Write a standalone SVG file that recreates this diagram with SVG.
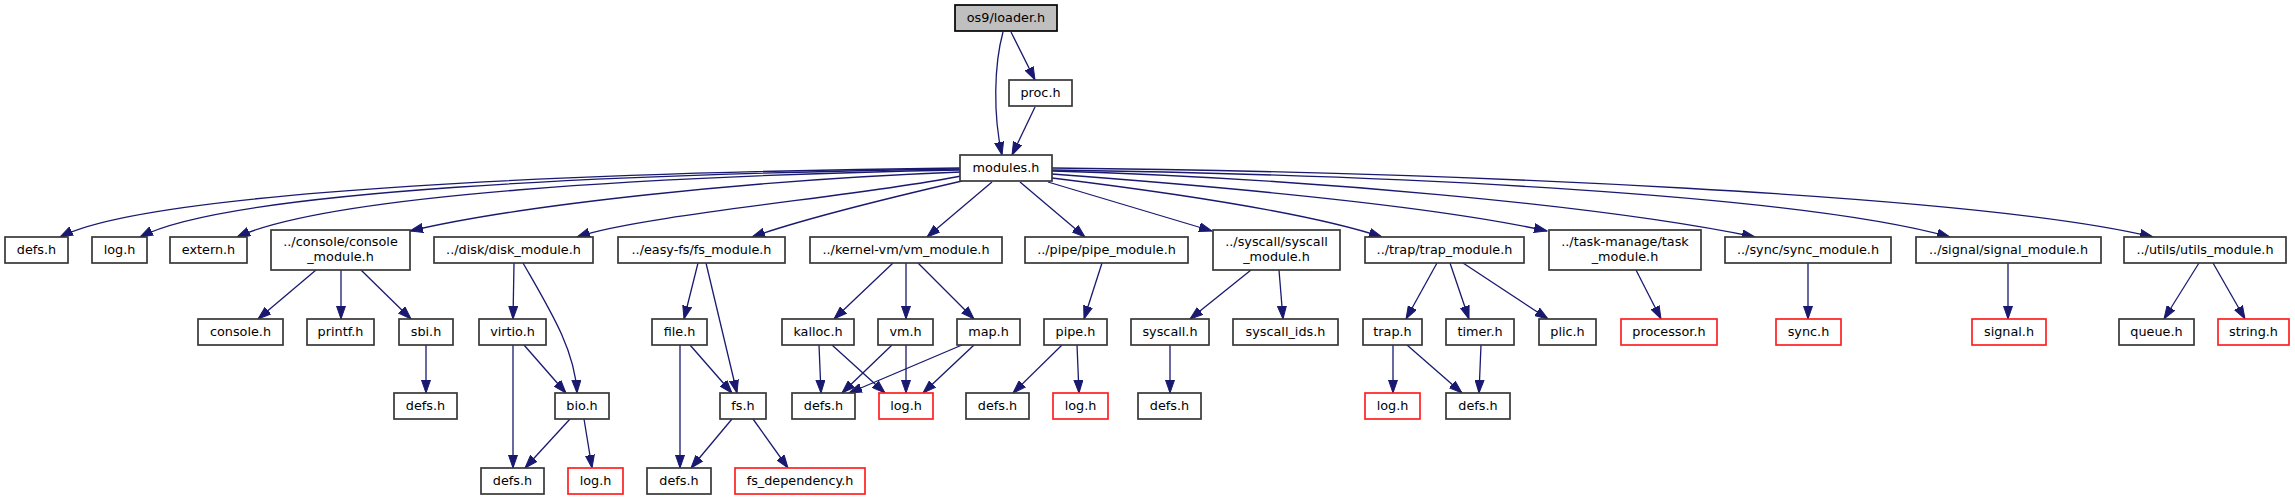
<svg xmlns="http://www.w3.org/2000/svg" width="2295" height="500" viewBox="0 0 2295 500">
<style>
.n rect{fill:#ffffff;stroke:#383838;stroke-width:1.7}
.n.r rect{stroke:#ff2020}
.n.g rect{fill:#bfbfbf;stroke:#000000}
.n text{font-family:"DejaVu Sans",sans-serif;font-size:12.8px;fill:#000;text-anchor:middle}
#edges path{fill:none;stroke:#191970;stroke-width:1.3;marker-end:url(#arr)}
</style>
<defs>
<marker id="arr" markerUnits="userSpaceOnUse" markerWidth="14" markerHeight="10" refX="13" refY="5" orient="auto">
<path d="M0,0.5 L13,5 L0,9.5 z" fill="#191970" stroke="#191970" stroke-width="1"/>
</marker>
</defs>
<rect width="2295" height="500" fill="#ffffff"/>
<g id="edges">
<path d="M1003,32 C994,65 993,115 1002,155"/>
<path d="M1011,32 L1035,80"/>
<path d="M1035,107 L1012,155"/>
<path d="M960,168 C600,172 150,190 60,237"/>
<path d="M960,169 C620,174 230,190 140,237"/>
<path d="M960,170 C650,176 330,195 237,237"/>
<path d="M961,172 C750,180 520,205 410,231"/>
<path d="M961,176 C870,195 640,215 577,237"/>
<path d="M962,181 C880,200 800,220 752,237"/>
<path d="M992,182 L927,237"/>
<path d="M1020,182 L1085,237"/>
<path d="M1048,182 L1212,231"/>
<path d="M1052,178 C1150,190 1300,210 1382,237"/>
<path d="M1052,174 C1200,185 1430,205 1547,231"/>
<path d="M1052,171 C1300,178 1600,205 1755,237"/>
<path d="M1052,170 C1400,175 1800,195 1950,237"/>
<path d="M1052,168 C1450,172 1980,195 2153,237"/>
<path d="M316,270 L258,319"/>
<path d="M341,270 L341,319"/>
<path d="M361,270 L411,319"/>
<path d="M514,263 L513,319"/>
<path d="M523,263 C550,310 575,350 577,393"/>
<path d="M698,263 L684,319"/>
<path d="M706,263 L737,393"/>
<path d="M690,345 L732,393"/>
<path d="M680,345 L680,468"/>
<path d="M732,419 L691,468"/>
<path d="M753,419 L788,468"/>
<path d="M513,345 L513,468"/>
<path d="M524,345 L566,393"/>
<path d="M570,419 L525,468"/>
<path d="M584,419 L592,468"/>
<path d="M426,345 L426,393"/>
<path d="M893,263 L834,319"/>
<path d="M906,263 L906,319"/>
<path d="M918,263 L974,319"/>
<path d="M819,345 L821,393"/>
<path d="M832,345 L885,393"/>
<path d="M892,345 L842,393"/>
<path d="M906,345 L906,393"/>
<path d="M962,345 L849,393"/>
<path d="M974,345 L923,393"/>
<path d="M1102,263 L1084,319"/>
<path d="M1062,345 L1013,393"/>
<path d="M1077,345 L1079,393"/>
<path d="M1251,270 L1190,319"/>
<path d="M1279,270 L1283,319"/>
<path d="M1170,345 L1170,393"/>
<path d="M1437,263 L1406,319"/>
<path d="M1450,263 L1469,319"/>
<path d="M1463,263 L1548,319"/>
<path d="M1393,345 L1393,393"/>
<path d="M1407,345 L1462,393"/>
<path d="M1481,345 L1479,393"/>
<path d="M1636,270 L1661,319"/>
<path d="M1808,263 L1808,319"/>
<path d="M2008,263 L2008,319"/>
<path d="M2199,263 L2164,319"/>
<path d="M2213,263 L2245,319"/>
</g>
<g id="n_loader" class="n g"><rect x="955" y="5" width="102" height="26"/><text x="1006" y="22">os9/loader.h</text></g>
<g id="n_proc" class="n"><rect x="1009" y="80" width="63" height="26"/><text x="1040.5" y="97">proc.h</text></g>
<g id="n_modules" class="n"><rect x="960" y="155" width="92" height="26"/><text x="1006" y="172">modules.h</text></g>

<g id="n_defs1" class="n"><rect x="5" y="237" width="63" height="26"/><text x="36.5" y="254">defs.h</text></g>
<g id="n_log1" class="n"><rect x="92" y="237" width="55" height="26"/><text x="119.5" y="254">log.h</text></g>
<g id="n_extern" class="n"><rect x="170" y="237" width="77" height="26"/><text x="208.5" y="254">extern.h</text></g>
<g id="n_console_mod" class="n"><rect x="271" y="230" width="139" height="40"/><text x="340.5" y="245.5">../console/console</text><text x="340.5" y="260.5">_module.h</text></g>
<g id="n_disk_mod" class="n"><rect x="434" y="237" width="159" height="26"/><text x="513.5" y="254">../disk/disk_module.h</text></g>
<g id="n_fs_mod" class="n"><rect x="618" y="237" width="167" height="26"/><text x="701.5" y="254">../easy-fs/fs_module.h</text></g>
<g id="n_vm_mod" class="n"><rect x="810" y="237" width="192" height="26"/><text x="906" y="254">../kernel-vm/vm_module.h</text></g>
<g id="n_pipe_mod" class="n"><rect x="1025" y="237" width="163" height="26"/><text x="1106.5" y="254">../pipe/pipe_module.h</text></g>
<g id="n_syscall_mod" class="n"><rect x="1213" y="230" width="127" height="40"/><text x="1276.5" y="245.5">../syscall/syscall</text><text x="1276.5" y="260.5">_module.h</text></g>
<g id="n_trap_mod" class="n"><rect x="1365" y="237" width="159" height="26"/><text x="1444.5" y="254">../trap/trap_module.h</text></g>
<g id="n_task_mod" class="n"><rect x="1549" y="230" width="152" height="40"/><text x="1625" y="245.5">../task-manage/task</text><text x="1625" y="260.5">_module.h</text></g>
<g id="n_sync_mod" class="n"><rect x="1725" y="237" width="166" height="26"/><text x="1808" y="254">../sync/sync_module.h</text></g>
<g id="n_signal_mod" class="n"><rect x="1916" y="237" width="185" height="26"/><text x="2008.5" y="254">../signal/signal_module.h</text></g>
<g id="n_utils_mod" class="n"><rect x="2124" y="237" width="162" height="26"/><text x="2205" y="254">../utils/utils_module.h</text></g>

<g id="n_console" class="n"><rect x="198" y="319" width="85" height="26"/><text x="240.5" y="336">console.h</text></g>
<g id="n_printf" class="n"><rect x="307" y="319" width="67" height="26"/><text x="340.5" y="336">printf.h</text></g>
<g id="n_sbi" class="n"><rect x="399" y="319" width="54" height="26"/><text x="426" y="336">sbi.h</text></g>
<g id="n_virtio" class="n"><rect x="479" y="319" width="67" height="26"/><text x="512.5" y="336">virtio.h</text></g>
<g id="n_file" class="n"><rect x="652" y="319" width="55" height="26"/><text x="679.5" y="336">file.h</text></g>
<g id="n_kalloc" class="n"><rect x="782" y="319" width="72" height="26"/><text x="818" y="336">kalloc.h</text></g>
<g id="n_vm" class="n"><rect x="878" y="319" width="55" height="26"/><text x="905.5" y="336">vm.h</text></g>
<g id="n_map" class="n"><rect x="957" y="319" width="63" height="26"/><text x="988.5" y="336">map.h</text></g>
<g id="n_pipe" class="n"><rect x="1044" y="319" width="63" height="26"/><text x="1075.5" y="336">pipe.h</text></g>
<g id="n_syscall" class="n"><rect x="1131" y="319" width="78" height="26"/><text x="1170" y="336">syscall.h</text></g>
<g id="n_syscall_ids" class="n"><rect x="1233" y="319" width="105" height="26"/><text x="1285.5" y="336">syscall_ids.h</text></g>
<g id="n_trap" class="n"><rect x="1363" y="319" width="59" height="26"/><text x="1392.5" y="336">trap.h</text></g>
<g id="n_timer" class="n"><rect x="1446" y="319" width="68" height="26"/><text x="1480" y="336">timer.h</text></g>
<g id="n_plic" class="n"><rect x="1539" y="319" width="57" height="26"/><text x="1567.5" y="336">plic.h</text></g>
<g id="n_processor" class="n r"><rect x="1621" y="319" width="96" height="26"/><text x="1669" y="336">processor.h</text></g>
<g id="n_sync" class="n r"><rect x="1776" y="319" width="65" height="26"/><text x="1808.5" y="336">sync.h</text></g>
<g id="n_signal" class="n r"><rect x="1972" y="319" width="74" height="26"/><text x="2009" y="336">signal.h</text></g>
<g id="n_queue" class="n"><rect x="2119" y="319" width="75" height="26"/><text x="2156.5" y="336">queue.h</text></g>
<g id="n_string" class="n r"><rect x="2218" y="319" width="71" height="26"/><text x="2253.5" y="336">string.h</text></g>

<g id="n_defs_sbi" class="n"><rect x="394" y="393" width="63" height="26"/><text x="425.5" y="410">defs.h</text></g>
<g id="n_bio" class="n"><rect x="555" y="393" width="54" height="26"/><text x="582" y="410">bio.h</text></g>
<g id="n_fs" class="n"><rect x="720" y="393" width="46" height="26"/><text x="743" y="410">fs.h</text></g>
<g id="n_defs_vm" class="n"><rect x="792" y="393" width="63" height="26"/><text x="823.5" y="410">defs.h</text></g>
<g id="n_log_vm" class="n r"><rect x="879" y="393" width="54" height="26"/><text x="906" y="410">log.h</text></g>
<g id="n_defs_pipe" class="n"><rect x="966" y="393" width="63" height="26"/><text x="997.5" y="410">defs.h</text></g>
<g id="n_log_pipe" class="n r"><rect x="1053" y="393" width="55" height="26"/><text x="1080.5" y="410">log.h</text></g>
<g id="n_defs_syscall" class="n"><rect x="1138" y="393" width="63" height="26"/><text x="1169.5" y="410">defs.h</text></g>
<g id="n_log_trap" class="n r"><rect x="1365" y="393" width="55" height="26"/><text x="1392.5" y="410">log.h</text></g>
<g id="n_defs_trap" class="n"><rect x="1446" y="393" width="64" height="26"/><text x="1478" y="410">defs.h</text></g>

<g id="n_defs_disk" class="n"><rect x="481" y="468" width="63" height="26"/><text x="512.5" y="485">defs.h</text></g>
<g id="n_log_disk" class="n r"><rect x="568" y="468" width="55" height="26"/><text x="595.5" y="485">log.h</text></g>
<g id="n_defs_fs" class="n"><rect x="647" y="468" width="64" height="26"/><text x="679" y="485">defs.h</text></g>
<g id="n_fs_dep" class="n r"><rect x="735" y="468" width="130" height="26"/><text x="800" y="485">fs_dependency.h</text></g>
</svg>
